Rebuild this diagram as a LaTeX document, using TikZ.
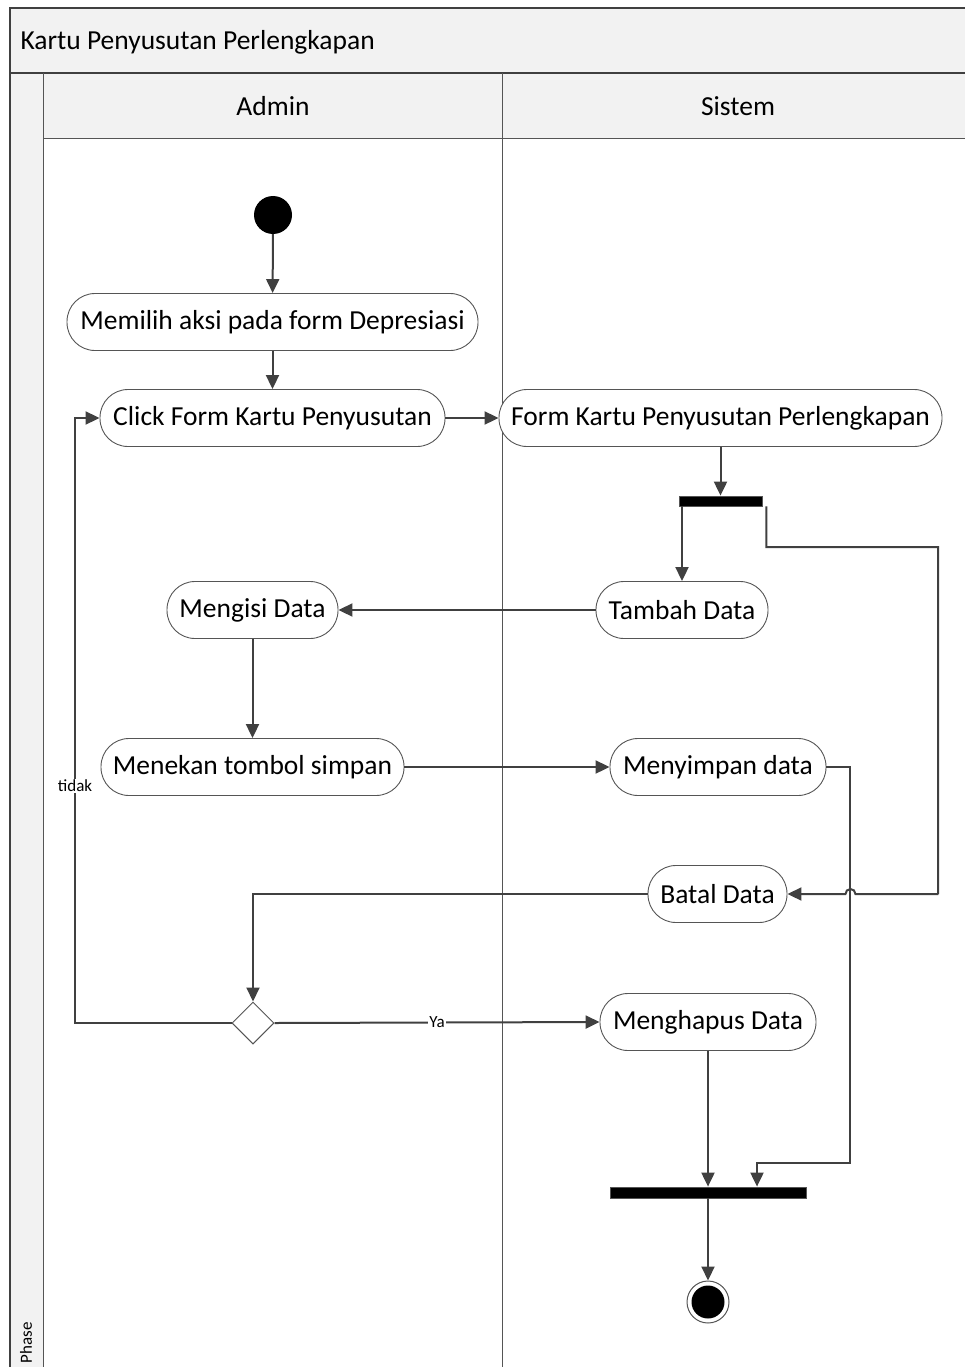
\documentclass[tikz,border=0pt]{standalone}
\usepackage{fontspec}
\setmainfont{Carlito}
\usetikzlibrary{arrows.meta,shapes.geometric,calc}
\definecolor{ln}{HTML}{404040}
\definecolor{bd}{HTML}{555555}
\definecolor{hd}{HTML}{F2F2F2}
\tikzset{
  act/.style={draw=bd, line width=0.9pt, rounded corners=28pt, minimum height=57pt, inner sep=0pt, fill=white, font=\fontsize{27.5}{32}\selectfont},
  flow/.style={draw=ln, line width=2pt, -{Triangle[length=14pt,width=13pt]}},
  syncbar/.style={fill=black, draw=bd, line width=0.8pt, inner sep=0pt},
  lbl/.style={fill=white, inner sep=1pt, font=\fontsize{17}{19}\selectfont},
  frame/.style={draw=ln, line width=1.6pt},
  thin/.style={draw=bd, line width=1pt}
}
\begin{document}
\begin{tikzpicture}[x=1pt,y=-1pt]
\useasboundingbox (0,0) rectangle (965,1367);
% swimlane frame
\fill[hd] (10,8) rectangle (965,73);
\fill[hd] (10,73) rectangle (43,1367);
\fill[hd] (43,73) rectangle (965,139);
\draw[frame] (965,8) -- (10,8) -- (10,1367);
\draw[frame] (10,73) -- (965,73);
\draw[thin] (43,73) -- (43,1367);
\draw[thin] (43,139) -- (965,139);
\draw[thin] (502,73) -- (502,1367);
\node[anchor=west, font=\fontsize{27.5}{32}\selectfont] (title) at (17,42) {Kartu Penyusutan Perlengkapan};
\node[font=\fontsize{27.5}{32}\selectfont] (admin) at (273,106) {Admin};
\node[font=\fontsize{27.5}{32}\selectfont] (sistem) at (738,106) {Sistem};
\node[rotate=90, font=\fontsize{17}{19}\selectfont] (phase) at (26,1343) {Phase};
% nodes
\node[circle, fill=black, minimum size=38pt, inner sep=0pt] (start) at (273,215) {};
\node[act, minimum width=411pt] (memilih) at (272.5,322) {Memilih aksi pada form Depresiasi};
\node[act, minimum width=345pt] (click) at (272.5,418) {Click Form Kartu Penyusutan};
\node[act, minimum width=443pt] (form) at (720.5,418) {Form Kartu Penyusutan Perlengkapan};
\node[syncbar, minimum width=83pt, minimum height=10pt] (fork) at (720.5,501) {};
\node[act, minimum width=172pt] (tambah) at (682,610) {Tambah Data};
\node[act, minimum width=171pt] (mengisi) at (252.5,610) {Mengisi Data};
\node[act, minimum width=303pt] (menekan) at (252.5,767) {Menekan tombol simpan};
\node[act, minimum width=216pt] (menyimpan) at (718,767) {Menyimpan data};
\node[act, minimum width=139pt] (batal) at (717.5,894) {Batal Data};
\node[diamond, draw=bd, line width=1pt, fill=white, minimum width=42pt, minimum height=42pt, inner sep=0pt] (dec) at (253,1023) {};
\node[act, minimum width=216pt] (menghapus) at (708,1022) {Menghapus Data};
\node[syncbar, minimum width=196pt, minimum height=11pt] (join) at (708,1192.5) {};
\node[circle, draw=bd, line width=1pt, fill=white, minimum size=42pt, inner sep=0pt] (end) at (708,1302) {};
\node[circle, fill=black, minimum size=33pt, inner sep=0pt] (endin) at (end) {};
% helper coordinates
\coordinate (rx1) at (938,547);
\coordinate (rx2) at (850,1163);
\coordinate (lx) at (75,1023);
% connectors
\draw[flow] (start) -- (memilih);
\draw[flow] (memilih) -- (click);
\draw[flow] (click) -- (form);
\draw[flow] (form) -- (fork);
\draw[flow] (tambah |- fork.south) -- (tambah.north);
\draw[flow] ([xshift=4pt]fork.south east) |- (rx1) |- ([xshift=151pt]batal.east)
  -- ([xshift=68pt]batal.east) arc[start angle=0,end angle=180,radius=5pt] -- (batal.east);
\draw[flow] (tambah) -- (mengisi);
\draw[flow] (mengisi) -- (menekan);
\draw[flow] (menekan) -- (menyimpan);
\draw[flow] (menyimpan.east) -| (rx2) -| ([xshift=49pt]join.north);
\draw[flow] (batal.west) -| (dec.north);
\draw[flow] (dec.west) -- (lx) |- (click.west);
\node[lbl] (tidak) at (75,786) {tidak};
\draw[flow] (dec.east) -- (menghapus.west) node[lbl, pos=0.5] (ya) {Ya};
\draw[flow] (menghapus) -- (join);
\draw[flow] (join) -- (end);
\end{tikzpicture}
\end{document}
